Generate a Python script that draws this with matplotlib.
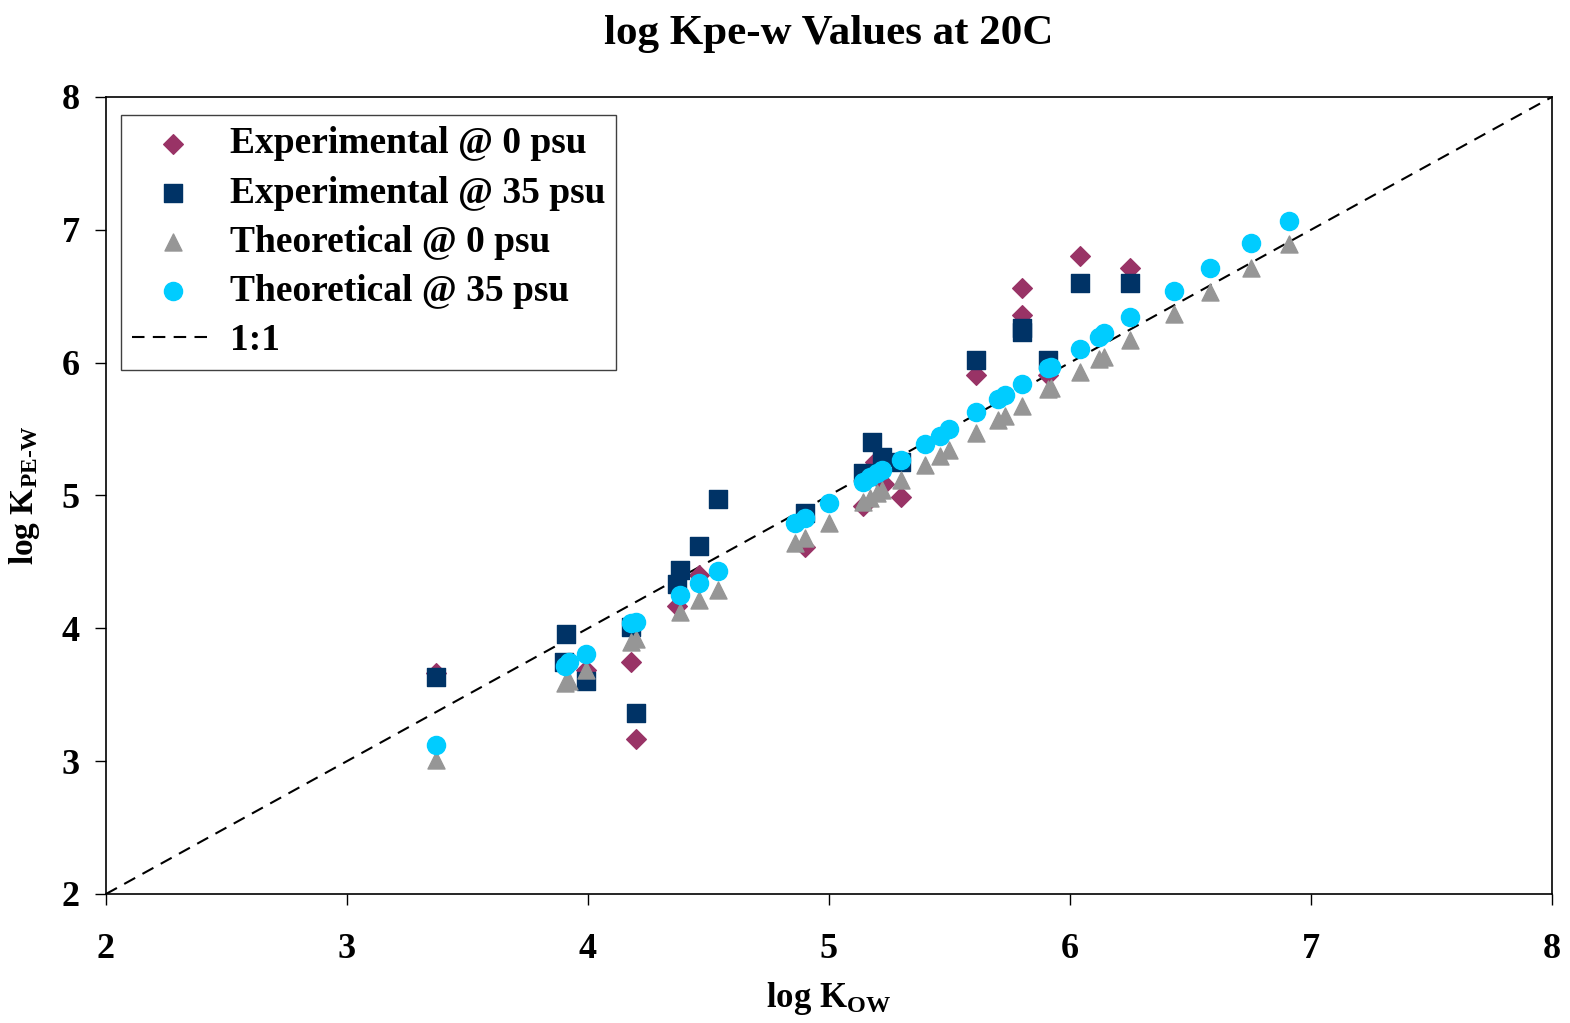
import matplotlib
matplotlib.use("Agg")
import matplotlib.pyplot as plt
import numpy as np

plt.rcParams['font.family'] = ['Liberation Serif', 'DejaVu Serif']
plt.rcParams['font.weight'] = 'bold'
plt.rcParams['mathtext.fontset'] = 'custom'
plt.rcParams['mathtext.rm'] = 'Liberation Serif:bold'
plt.rcParams['mathtext.bf'] = 'Liberation Serif:bold'
plt.rcParams['mathtext.default'] = 'bf'

# Experimental @ 0 psu
exp0_x = [3.37, 3.99, 4.18, 4.20, 4.37, 4.46, 4.90, 5.14, 5.19, 5.23, 5.30,
          5.61, 5.80, 5.80, 5.91, 6.04, 6.25]
exp0_y = [3.66, 3.69, 3.75, 3.17, 4.17, 4.40, 4.61, 4.92, 5.25, 5.09, 4.99,
          5.91, 6.56, 6.36, 5.91, 6.80, 6.71]

# Experimental @ 35 psu
exp35_x = [3.37, 3.91, 3.90, 3.99, 4.18, 4.20, 4.38, 4.37, 4.46, 4.54, 4.90,
           5.14, 5.18, 5.22, 5.30, 5.61, 5.80, 5.80, 5.91, 6.04, 6.25]
exp35_y = [3.63, 3.96, 3.75, 3.60, 4.01, 3.36, 4.44, 4.33, 4.62, 4.97, 4.87,
           5.17, 5.40, 5.29, 5.25, 6.02, 6.26, 6.23, 6.02, 6.60, 6.60]

# Theoretical (same log Kow for both salinities)
theo_x = [3.37, 3.905, 3.92, 3.99, 4.18, 4.20, 4.38, 4.46, 4.54, 4.86, 4.90,
          5.00, 5.14, 5.17, 5.20, 5.22, 5.30, 5.40, 5.46, 5.50, 5.61, 5.70,
          5.73, 5.80, 5.91, 5.92, 6.04, 6.12, 6.14, 6.25, 6.43, 6.58, 6.75, 6.91]
theo0_y = [3.01, 3.59, 3.60, 3.69, 3.90, 3.92, 4.12, 4.21, 4.29, 4.64, 4.68,
           4.79, 4.95, 4.98, 5.02, 5.04, 5.12, 5.23, 5.30, 5.34, 5.47, 5.57,
           5.60, 5.67, 5.80, 5.81, 5.93, 6.03, 6.04, 6.17, 6.37, 6.53, 6.71, 6.89]
theo35_y = [3.12, 3.72, 3.75, 3.81, 4.04, 4.05, 4.25, 4.34, 4.43, 4.79, 4.83,
            4.94, 5.10, 5.14, 5.17, 5.19, 5.27, 5.39, 5.45, 5.50, 5.63, 5.73,
            5.76, 5.84, 5.96, 5.97, 6.10, 6.19, 6.22, 6.34, 6.54, 6.71, 6.90, 7.07]

one_to_one = [2, 8]

fig = plt.figure(figsize=(15.7, 10.23), dpi=100)
ax = fig.add_axes([0.0675, 0.1261, 0.921, 0.7791])

ax.scatter(exp0_x, exp0_y, marker='D', s=100, color='#993366', label='Experimental @ 0 psu', zorder=3)
ax.scatter(exp35_x, exp35_y, marker='s', s=150, color='#003366', label='Experimental @ 35 psu', zorder=4)
ax.scatter(theo_x, theo0_y, marker='^', s=150, color='#969696', label='Theoretical @ 0 psu', zorder=5)
ax.scatter(theo_x, theo35_y, marker='o', s=170, color='#00CCFF', label='Theoretical @ 35 psu', zorder=6)
ax.plot(one_to_one, one_to_one, 'k--', lw=1.5, dashes=(6, 4), label='1:1', zorder=2)

ax.set_xlim(2, 8)
ax.set_ylim(2, 8)
ax.set_xticks(range(2, 9))
ax.set_yticks(range(2, 9))
ax.tick_params(labelsize=26, direction='out', length=8, width=1)
ax.tick_params(axis='x', pad=20)
ax.tick_params(axis='y', pad=11)
for lbl in ax.get_xticklabels() + ax.get_yticklabels():
    lbl.set_fontweight('bold')
for s in ax.spines.values():
    s.set_linewidth(1.2)

ax.set_title('log Kpe-w Values at 20C', fontsize=31, fontweight='bold', pad=38)
ax.set_xlabel('log K$_{OW}$', fontsize=25, fontweight='bold', labelpad=10)
ax.set_ylabel('log K$_{PE\u2010W}$', fontsize=24, fontweight='bold', labelpad=14)

leg = ax.legend(loc='upper left', bbox_to_anchor=(0.0, 0.996), fontsize=27,
                frameon=True, fancybox=False, edgecolor='#404040', framealpha=1,
                handlelength=2.2, handletextpad=0.4, borderpad=0.3, labelspacing=0.38,
                borderaxespad=0.4)
leg.get_frame().set_linewidth(1.0)

fig.savefig('out.png', dpi=100)
